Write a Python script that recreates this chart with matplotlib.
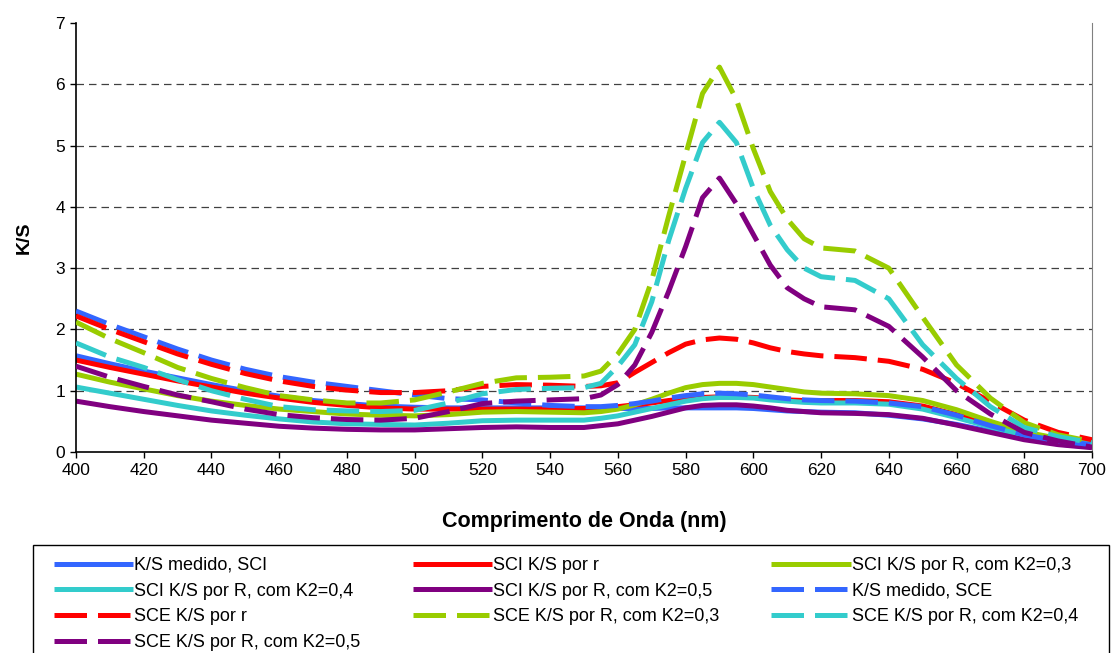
import matplotlib
matplotlib.use('Agg')
import matplotlib.pyplot as plt
from matplotlib.patches import Rectangle

plt.rcParams['font.family'] = ['Liberation Sans', 'DejaVu Sans']

# comprimento de onda (nm)
wl = [400, 410, 420, 430, 440, 450, 460, 470, 480, 490, 500, 510, 520, 530, 540, 550,
      555, 560, 565, 570, 575, 580, 585, 590, 595, 600, 605, 610, 615,
      620, 630, 640, 650, 660, 670, 680, 690, 700]

# SCI (linhas cheias)
sci_medido = [1.57, 1.44, 1.32, 1.21, 1.10, 1.00, 0.91, 0.84, 0.79, 0.75, 0.73, 0.72, 0.72, 0.72, 0.72, 0.72,
              0.72, 0.71, 0.71, 0.71, 0.72, 0.72, 0.72, 0.72, 0.72, 0.71, 0.69, 0.67, 0.66,
              0.65, 0.64, 0.60, 0.54, 0.45, 0.34, 0.22, 0.13, 0.08]
sci_r = [1.50, 1.38, 1.27, 1.16, 1.06, 0.96, 0.88, 0.81, 0.76, 0.72, 0.70, 0.70, 0.70, 0.70, 0.70, 0.71,
         0.72, 0.74, 0.77, 0.80, 0.84, 0.87, 0.89, 0.90, 0.90, 0.89, 0.87, 0.85, 0.84,
         0.84, 0.84, 0.82, 0.75, 0.61, 0.46, 0.31, 0.21, 0.15]
sci_k03 = [1.27, 1.14, 1.03, 0.92, 0.83, 0.76, 0.70, 0.66, 0.62, 0.60, 0.59, 0.61, 0.65, 0.66, 0.65, 0.64,
           0.66, 0.70, 0.77, 0.86, 0.96, 1.05, 1.10, 1.12, 1.12, 1.10, 1.06, 1.02, 0.98,
           0.96, 0.95, 0.92, 0.84, 0.69, 0.50, 0.33, 0.22, 0.16]
sci_k04 = [1.06, 0.96, 0.86, 0.76, 0.67, 0.60, 0.54, 0.49, 0.46, 0.45, 0.44, 0.47, 0.51, 0.52, 0.52, 0.52,
           0.55, 0.59, 0.65, 0.71, 0.77, 0.83, 0.87, 0.89, 0.89, 0.88, 0.85, 0.83, 0.81,
           0.80, 0.80, 0.78, 0.70, 0.56, 0.41, 0.27, 0.18, 0.13]
sci_k05 = [0.83, 0.74, 0.66, 0.59, 0.52, 0.47, 0.42, 0.39, 0.37, 0.36, 0.36, 0.38, 0.40, 0.41, 0.40, 0.40,
           0.43, 0.46, 0.52, 0.58, 0.65, 0.72, 0.76, 0.77, 0.77, 0.75, 0.72, 0.68, 0.66,
           0.64, 0.63, 0.61, 0.55, 0.44, 0.32, 0.20, 0.12, 0.07]

# SCE (linhas tracejadas)
sce_medido = [2.30, 2.08, 1.88, 1.68, 1.50, 1.35, 1.23, 1.14, 1.07, 1.00, 0.93, 0.87, 0.85, 0.80, 0.76, 0.74,
              0.74, 0.76, 0.79, 0.83, 0.88, 0.92, 0.95, 0.96, 0.95, 0.93, 0.90, 0.87, 0.85,
              0.84, 0.83, 0.80, 0.74, 0.60, 0.43, 0.28, 0.18, 0.12]
sce_r = [2.22, 2.00, 1.80, 1.60, 1.43, 1.28, 1.16, 1.07, 1.01, 0.97, 0.97, 1.00, 1.07, 1.10, 1.09, 1.07,
         1.08, 1.13, 1.30, 1.46, 1.62, 1.76, 1.83, 1.86, 1.84, 1.78, 1.70, 1.64, 1.60,
         1.57, 1.54, 1.48, 1.35, 1.12, 0.82, 0.52, 0.32, 0.20]
sce_k03 = [2.12, 1.85, 1.62, 1.38, 1.20, 1.05, 0.92, 0.85, 0.80, 0.80, 0.85, 0.98, 1.12, 1.21, 1.22, 1.24,
           1.32, 1.60, 2.00, 2.80, 3.85, 4.85, 5.85, 6.28, 5.75, 4.95, 4.25, 3.80, 3.48,
           3.33, 3.28, 3.00, 2.20, 1.42, 0.88, 0.48, 0.28, 0.17]
sce_k04 = [1.78, 1.55, 1.38, 1.18, 1.00, 0.86, 0.74, 0.69, 0.67, 0.66, 0.68, 0.80, 0.95, 1.02, 1.04, 1.05,
           1.12, 1.40, 1.75, 2.45, 3.45, 4.30, 5.05, 5.38, 5.05, 4.30, 3.70, 3.30, 3.00,
           2.86, 2.80, 2.50, 1.75, 1.20, 0.74, 0.40, 0.25, 0.15]
sce_k05 = [1.40, 1.22, 1.07, 0.93, 0.82, 0.70, 0.61, 0.56, 0.53, 0.52, 0.55, 0.66, 0.79, 0.83, 0.85, 0.87,
           0.93, 1.10, 1.42, 1.95, 2.62, 3.35, 4.15, 4.47, 4.05, 3.55, 3.05, 2.68, 2.50,
           2.37, 2.32, 2.05, 1.55, 1.00, 0.62, 0.32, 0.18, 0.08]

labels = ['K/S medido, SCI', 'SCI K/S por r', 'SCI K/S por R, com K2=0,3',
          'SCI K/S por R, com K2=0,4', 'SCI K/S por R, com K2=0,5', 'K/S medido, SCE',
          'SCE K/S por r', 'SCE K/S por R, com K2=0,3', 'SCE K/S por R, com K2=0,4',
          'SCE K/S por R, com K2=0,5']
values = [sci_medido, sci_r, sci_k03, sci_k04, sci_k05,
          sce_medido, sce_r, sce_k03, sce_k04, sce_k05]
colors = ['#3366FF', '#FF0000', '#99CC00', '#33CCCC', '#800080'] * 2

xticks = list(range(400, 701, 20))
yticks = list(range(0, 8))

fig = plt.figure(figsize=(11.12, 6.53), dpi=100)
ax = fig.add_axes([76 / 1112, 1 - 452 / 653, 1016 / 1112, 429 / 653])

# linhas de grade tracejadas
for v in yticks[1:-1]:
    ax.axhline(v, color='#404040', lw=0.9, dashes=(6, 4), zorder=1)

handles = []
for i, (lab, y, c) in enumerate(zip(labels, values, colors)):
    if i < 5:
        h, = ax.plot(wl, y, color=c, lw=3.6, solid_capstyle='butt', label=lab, zorder=2)
    else:
        h, = ax.plot(wl, y, color=c, lw=3.6, dashes=(6.5, 2.2), dash_capstyle='butt',
                     label=lab, zorder=3)
    handles.append(h)

ax.set_xlim(400, 700)
ax.set_ylim(0, 7)
ax.set_xticks(xticks)
ax.set_yticks(yticks)
ax.tick_params(direction='out', length=4, width=1, labelsize=12.5, pad=4)
ax.spines['top'].set_visible(False)
ax.spines['right'].set_color('#808080')
ax.spines['left'].set_linewidth(1.2)
ax.spines['bottom'].set_linewidth(1.2)

ax.set_xlabel('Comprimento de Onda (nm)', fontsize=15.5, fontweight='bold', labelpad=24)
ax.set_ylabel('K/S', fontsize=14, fontweight='bold', labelpad=16)

# caixa da legenda
fig.patches.append(Rectangle((33 / 1112, -0.02), 1076 / 1112, 0.02 + 1 - 545 / 653,
                             transform=fig.transFigure, fill=False, edgecolor='black', lw=1))

order = [0, 3, 6, 9, 1, 4, 7, 2, 5, 8]
fig.legend([handles[i] for i in order], [labels[i] for i in order],
           loc='upper left', bbox_to_anchor=(54 / 1112, 1 - 557 / 653), ncol=3,
           frameon=False, fontsize=13, handlelength=4.4, handletextpad=0.05,
           columnspacing=2.88, labelspacing=0.48, borderpad=0, borderaxespad=0)

fig.savefig('out.png', dpi=100)
